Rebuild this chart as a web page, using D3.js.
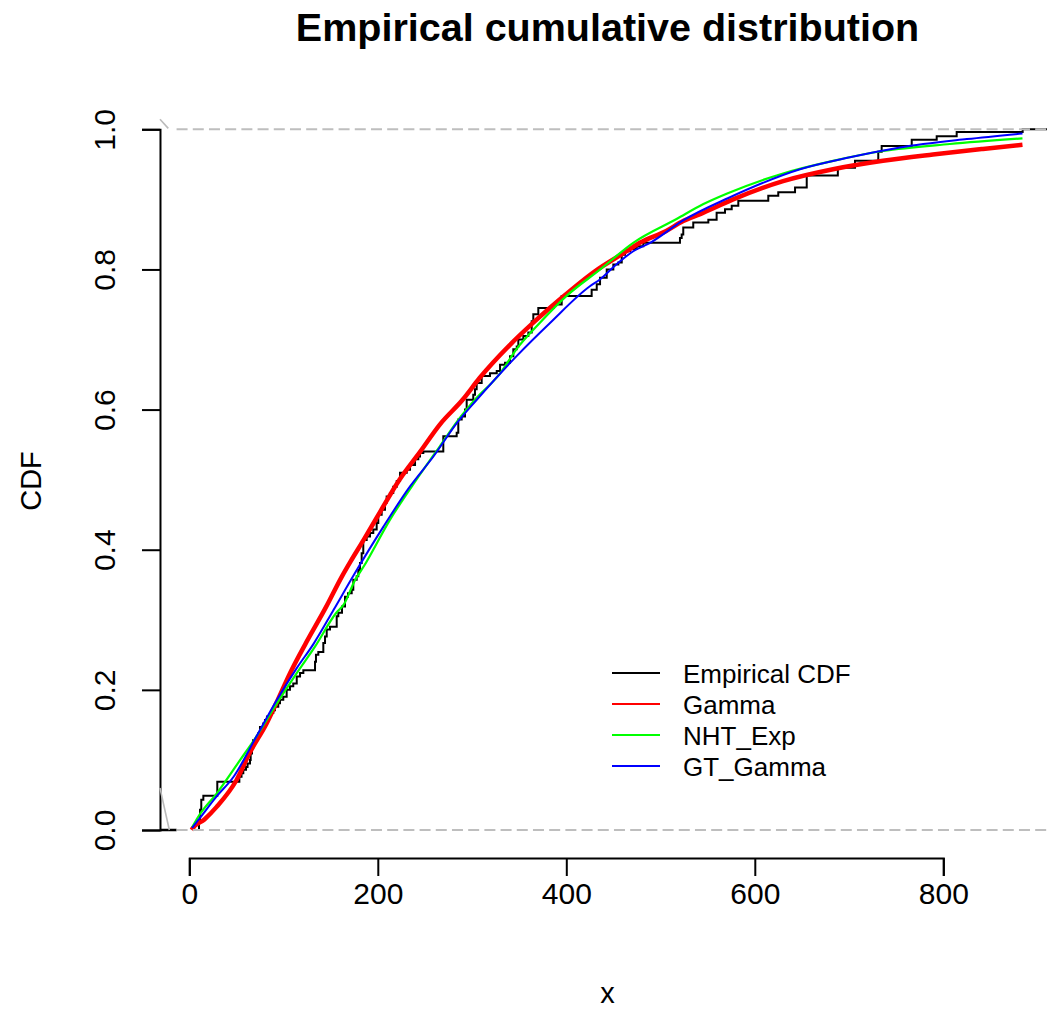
<!DOCTYPE html>
<html>
<head>
<meta charset="utf-8">
<script src="https://cdn.jsdelivr.net/npm/d3@7/dist/d3.min.js"></script>
<style>
  html, body { margin: 0; padding: 0; background: #ffffff; }
  svg { display: block; font-family: "Liberation Sans", Arial, Helvetica, sans-serif; }
</style>
</head>
<body>
<svg id="chart" width="1047" height="1009"></svg>
<script>
// Axis ticks
const xTickValues = [0, 200, 400, 600, 800];
const yTickValues = [0, 0.2, 0.4, 0.6, 0.8, 1.0];

// Plot limits in data units (left edge carries the y axis)
const xLimLeft = -31.1;
const xLimRight = 919;
const refLineStart = -13.5;

// Empirical CDF: jump locations and the value reached after each jump
const ecdfX = [10.3, 11.4, 12.7, 14.9, 29.7, 53.1, 55.4, 57.3, 60.2, 61.8, 64.4, 65.1, 66.5, 67.6,
  71.5, 73.2, 75.0, 78.5, 80.3, 82.4, 85.6, 89.1, 90.9, 94.4, 96.2, 99.7, 103.3, 106.8, 110.3,
  114.0, 117.5, 121.0, 133.4, 134.4, 136.9, 142.2, 144.0, 145.8, 149.3, 156.4, 158.1, 162.0,
  165.2, 168.4, 172.3, 174.0, 177.6, 179.3, 181.1, 182.9, 184.6, 188.2, 191.7, 195.2, 198.8,
  200.5, 204.1, 207.6, 209.4, 212.9, 216.4, 220.1, 223.6, 230.7, 234.2, 239.5, 243.0, 244.8,
  248.3, 269.5, 283.7, 285.4, 289.0, 292.5, 294.3, 301.3, 303.1, 304.9, 310.2, 319.0, 326.2,
  329.7, 335.0, 340.3, 343.8, 347.4, 349.1, 354.4, 359.7, 363.3, 365.0, 370.3, 386.9, 395.1,
  426.9, 432.3, 435.8, 442.9, 449.9, 455.2, 458.8, 462.3, 467.6, 474.7, 481.7, 520.6, 522.4,
  524.1, 534.7, 550.7, 559.5, 568.4, 575.5, 582.5, 614.3, 624.9, 642.7, 655.1, 688.1, 706.3,
  731.0, 734.6, 766.5, 793.0, 814.2, 884.2];
const ecdfF = [0.014, 0.029, 0.043, 0.049, 0.069, 0.076, 0.081, 0.086, 0.090, 0.095, 0.100, 0.109,
  0.119, 0.128, 0.133, 0.138, 0.147, 0.152, 0.157, 0.162, 0.167, 0.171, 0.176, 0.181, 0.186,
  0.190, 0.200, 0.205, 0.209, 0.219, 0.224, 0.228, 0.240, 0.250, 0.254, 0.267, 0.276, 0.286,
  0.290, 0.305, 0.310, 0.319, 0.333, 0.338, 0.343, 0.357, 0.362, 0.371, 0.381, 0.395, 0.414,
  0.419, 0.424, 0.429, 0.438, 0.450, 0.457, 0.467, 0.476, 0.481, 0.490, 0.498, 0.510, 0.514,
  0.521, 0.529, 0.533, 0.538, 0.540, 0.562, 0.567, 0.586, 0.590, 0.600, 0.614, 0.621, 0.629,
  0.638, 0.648, 0.652, 0.655, 0.664, 0.667, 0.676, 0.686, 0.690, 0.700, 0.705, 0.710, 0.726,
  0.736, 0.745, 0.750, 0.762, 0.771, 0.779, 0.788, 0.800, 0.807, 0.810, 0.821, 0.826, 0.829,
  0.833, 0.838, 0.845, 0.850, 0.860, 0.867, 0.871, 0.881, 0.886, 0.891, 0.898, 0.905, 0.910,
  0.917, 0.934, 0.945, 0.955, 0.968, 0.976, 0.985, 0.990, 0.996, 1.000];

// Fitted distribution CDFs, sampled along x
const gammaX = [2.5, 4, 16, 29, 50, 64, 82, 94, 107, 123, 145, 162, 171, 185, 199, 223, 245, 266,
  290, 308, 340, 365, 393, 430, 464, 478, 506, 524, 542, 577, 630, 683, 736, 789, 842, 884];
const gammaF = [0, 0.003, 0.015, 0.033, 0.071, 0.110, 0.152, 0.186, 0.224, 0.265, 0.318, 0.362,
  0.383, 0.414, 0.446, 0.500, 0.540, 0.579, 0.614, 0.645, 0.692, 0.724, 0.757, 0.797, 0.826,
  0.838, 0.855, 0.869, 0.879, 0.900, 0.926, 0.943, 0.955, 0.964, 0.972, 0.978];

const nhtX = [3, 10, 29, 54, 71, 93, 114, 133, 156, 164, 176, 185, 213, 241, 266, 287, 303, 330,
  347, 372, 400, 436, 471, 517, 545, 570, 630, 683, 736, 807, 884];
const nhtF = [0.004, 0.020, 0.052, 0.100, 0.133, 0.181, 0.224, 0.261, 0.310, 0.322, 0.357, 0.376,
  0.443, 0.500, 0.548, 0.588, 0.614, 0.652, 0.686, 0.724, 0.762, 0.800, 0.838, 0.872, 0.893,
  0.908, 0.937, 0.955, 0.969, 0.979, 0.987];

const gtX = [3, 10, 29, 47, 71, 93, 114, 132, 153, 175, 206, 234, 259, 284, 305, 347, 383, 425,
  436, 453, 471, 489, 524, 572, 648, 701, 754, 825, 884];
const gtF = [0.003, 0.015, 0.048, 0.076, 0.133, 0.186, 0.231, 0.266, 0.314, 0.365, 0.433, 0.490,
  0.533, 0.581, 0.614, 0.676, 0.724, 0.776, 0.786, 0.807, 0.826, 0.838, 0.870, 0.902, 0.943,
  0.960, 0.974, 0.986, 0.994];

// Short grey strokes entering the plot at its left edge
const edgeStrokesX = [[-31.1, -22.3], [-31.1, -21.2]];
const edgeStrokesF = [[1.0143, 1.0013], [0.060, 0.000]];

const legendLabels = ["Empirical CDF", "Gamma", "NHT_Exp", "GT_Gamma"];
const legendColors = ["#000000", "#ff0000", "#00ff00", "#0000ff"];

// ---------------------------------------------------------------
const svg = d3.select("#chart");
const x = d3.scaleLinear().domain([0, 800]).range([189.3, 943.3]);
const y = d3.scaleLinear().domain([0, 1]).range([830, 129.3]);
const yAxisX = x(xLimLeft);
const xAxisY = y(-0.04);

const font = '"Liberation Sans", Arial, Helvetica, sans-serif';

// Title
svg.append("text")
  .attr("x", 607.5).attr("y", 41)
  .attr("text-anchor", "middle")
  .attr("font-size", 39.5).attr("font-weight", "bold")
  .text("Empirical cumulative distribution");

// Axis titles
svg.append("text")
  .attr("x", 607.5).attr("y", 1003)
  .attr("text-anchor", "middle").attr("font-size", 29)
  .text("x");
svg.append("text")
  .attr("transform", `translate(41,481) rotate(-90)`)
  .attr("text-anchor", "middle").attr("font-size", 29)
  .text("CDF");

// x axis
const gx = svg.append("g")
  .attr("transform", `translate(0,${xAxisY})`)
  .call(d3.axisBottom(x).tickValues(xTickValues).tickSizeOuter(0).tickSize(18)
    .tickFormat(d3.format("d")));
gx.select(".domain").attr("stroke", "#000").attr("stroke-width", 2);
gx.selectAll(".tick line").attr("stroke", "#000").attr("stroke-width", 2);
gx.selectAll(".tick text")
  .attr("y", 46).attr("dy", 0)
  .attr("font-size", 30).attr("font-family", font).attr("fill", "#000");

// y axis
const gy = svg.append("g")
  .attr("transform", `translate(${yAxisX},0)`)
  .call(d3.axisLeft(y).tickValues(yTickValues).tickSizeOuter(0).tickSize(18)
    .tickFormat(d3.format(".1f")));
gy.select(".domain").attr("stroke", "#000").attr("stroke-width", 2);
gy.selectAll(".tick line").attr("stroke", "#000").attr("stroke-width", 2);
gy.selectAll(".tick text")
  .attr("x", 0).attr("dy", 0)
  .attr("transform", "translate(-45,0) rotate(-90)")
  .attr("text-anchor", "middle")
  .attr("font-size", 30).attr("font-family", font).attr("fill", "#000");

// Empirical CDF staircase
const stepLine = d3.line().x(d => x(d[0])).y(d => y(d[1])).curve(d3.curveStepAfter);
const ecdfPts = [[ecdfX[0], 0]].concat(ecdfX.map((v, i) => [v, ecdfF[i]]));
ecdfPts.push([xLimRight, 1]);
svg.append("path")
  .attr("d", stepLine(ecdfPts))
  .attr("fill", "none").attr("stroke", "#000").attr("stroke-width", 2);
svg.append("path")
  .attr("d", d3.line().x(d => x(d[0])).y(d => y(d[1]))([[xLimLeft, 0], [refLineStart, 0]]))
  .attr("fill", "none").attr("stroke", "#000").attr("stroke-width", 2.5);

// Fitted curves
const curveLine = d3.line().x(d => x(d[0])).y(d => y(d[1])).curve(d3.curveMonotoneX);
function drawCurve(xs, fs, color, width) {
  svg.append("path")
    .attr("d", curveLine(xs.map((v, i) => [v, fs[i]])))
    .attr("fill", "none").attr("stroke", color)
    .attr("stroke-width", width).attr("stroke-linejoin", "round");
}
drawCurve(gammaX, gammaF, "#ff0000", 4.5);
drawCurve(nhtX, nhtF, "#00ff00", 2.2);
drawCurve(gtX, gtF, "#0000ff", 2);

// Reference lines at 0 and 1
[0, 1].forEach(level => {
  svg.append("line")
    .attr("x1", x(refLineStart)).attr("x2", x(xLimRight + 200))
    .attr("y1", y(level)).attr("y2", y(level))
    .attr("stroke", "#bebebe").attr("stroke-width", 2)
    .attr("stroke-dasharray", "11,5.2");
});

// Grey edge strokes
edgeStrokesX.forEach((xs, i) => {
  svg.append("line")
    .attr("x1", x(xs[0])).attr("x2", x(xs[1]))
    .attr("y1", y(edgeStrokesF[i][0])).attr("y2", y(edgeStrokesF[i][1]))
    .attr("stroke", "#bbbbbb").attr("stroke-width", 1.6);
});

// Legend
const legend = svg.append("g").attr("transform", "translate(612,673)");
legendLabels.forEach((lab, i) => {
  const row = legend.append("g").attr("transform", `translate(0,${i * 31})`);
  row.append("line").attr("x1", 0).attr("x2", 48).attr("y1", 0).attr("y2", 0)
    .attr("stroke", legendColors[i]).attr("stroke-width", 2);
  row.append("text").attr("x", 71).attr("y", 10)
    .attr("font-size", 26).text(lab);
});
</script>
</body>
</html>
